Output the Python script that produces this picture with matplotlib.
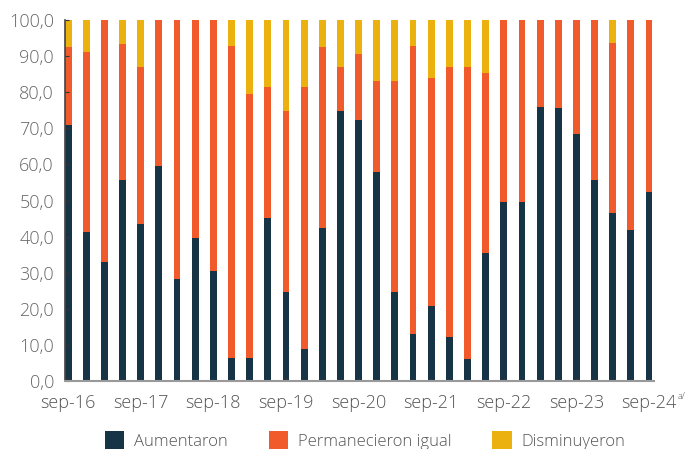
import matplotlib
import matplotlib.pyplot as plt
from matplotlib.patches import Patch

matplotlib.use("Agg")

plt.rcParams["font.family"] = ["Open Sans", "DejaVu Sans"]
plt.rcParams["font.weight"] = "light"

# quarterly, sep-16 .. sep-24
periods = ["sep-16", "dic-16", "mar-17", "jun-17", "sep-17", "dic-17", "mar-18", "jun-18",
           "sep-18", "dic-18", "mar-19", "jun-19", "sep-19", "dic-19", "mar-20", "jun-20",
           "sep-20", "dic-20", "mar-21", "jun-21", "sep-21", "dic-21", "mar-22", "jun-22",
           "sep-22", "dic-22", "mar-23", "jun-23", "sep-23", "dic-23", "mar-24", "jun-24",
           "sep-24"]

aumentaron = [70.9, 41.3, 33.0, 55.7, 43.5, 59.6, 28.3, 39.6, 30.5, 6.4, 6.4, 45.2,
              24.7, 8.9, 42.4, 74.8, 72.3, 57.9, 24.7, 13.0, 20.8, 12.2, 6.1, 35.5,
              49.6, 49.6, 75.9, 75.6, 68.4, 55.7, 46.5, 41.8, 52.4]
permanecieron = [21.6, 49.8, 67.0, 37.7, 43.5, 40.4, 71.7, 60.4, 69.5, 86.4, 73.1, 36.2,
                 50.1, 72.5, 50.1, 12.2, 18.3, 25.2, 58.4, 79.8, 63.1, 74.8, 80.9, 49.8,
                 50.4, 50.4, 24.1, 24.4, 31.6, 44.3, 47.1, 58.2, 47.6]
disminuyeron = [7.5, 8.9, 0.0, 6.6, 13.0, 0.0, 0.0, 0.0, 0.0, 7.2, 20.5, 18.6,
                25.2, 18.6, 7.5, 13.0, 9.4, 17.2, 17.2, 7.2, 16.1, 13.0, 13.0, 15.0,
                0.0, 0.0, 0.0, 0.0, 0.0, 0.0, 6.4, 0.0, 0.0]

labels = ["Aumentaron", "Permanecieron igual", "Disminuyeron"]
colors = ["#173447", "#F15A2B", "#EBB10E"]

fig = plt.figure(figsize=(6.88, 4.49), dpi=100)
ax = fig.add_axes([0.0945, 0.1514, 0.856, 0.8041])

x = list(range(len(periods)))
w = 0.38
ax.bar(x, aumentaron, w, color=colors[0])
ax.bar(x, permanecieron, w, bottom=aumentaron, color=colors[1])
bottom2 = [a + p for a, p in zip(aumentaron, permanecieron)]
ax.bar(x, disminuyeron, w, bottom=bottom2, color=colors[2])

ax.set_ylim(0, 100)
ax.set_xlim(-0.17, 32.27)
ax.set_yticks(range(0, 101, 10))
ax.set_yticklabels([f"{v:.1f}".replace(".", ",") for v in range(0, 101, 10)])
ax.set_xticks(x[::4])
ax.set_xticklabels(periods[::4])

for s in ["top", "right"]:
    ax.spines[s].set_visible(False)
ax.spines["left"].set_color("#444444")
ax.spines["left"].set_linewidth(1.2)
ax.spines["bottom"].set_color("#999999")
ax.spines["bottom"].set_linewidth(1.5)

ax.tick_params(axis="y", direction="in", length=3, color="#333333", labelsize=13,
               labelcolor="#666666", pad=8)
ax.tick_params(axis="x", direction="in", length=3, color="#333333", labelsize=13,
               labelcolor="#555555", pad=9)

fig.text(0.985, 0.112, "a/", fontsize=6.5, color="#555555")

handles = [Patch(facecolor=c, label=l) for c, l in zip(colors, labels)]
fig.legend(handles=handles, loc="lower center", bbox_to_anchor=(0.531, -0.035), ncol=3,
           frameon=False, fontsize=12, labelcolor="#555555", handlelength=1.15,
           handleheight=1.3, columnspacing=2.45, handletextpad=0.6)

fig.savefig("out.png", dpi=100)
